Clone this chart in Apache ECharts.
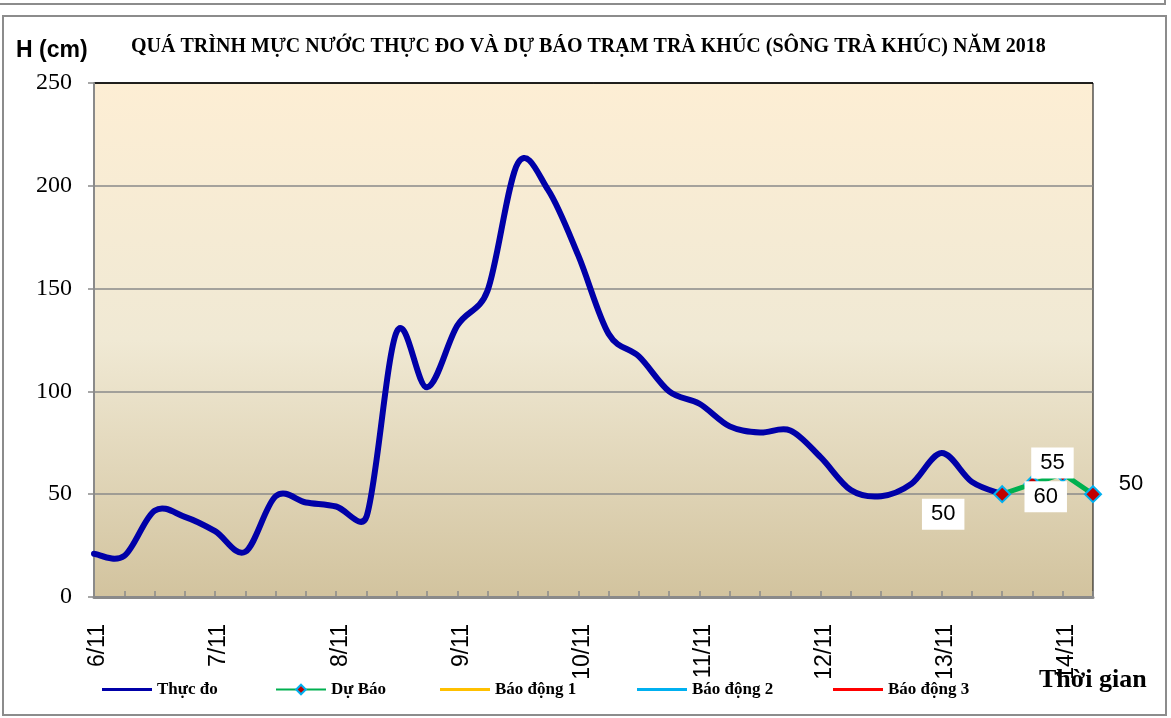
<!DOCTYPE html>
<html>
<head>
<meta charset="utf-8">
<script src="https://cdn.jsdelivr.net/npm/echarts@6/dist/echarts.min.js"></script>
<style>html,body{margin:0;padding:0;background:#fff;}#c{width:1171px;height:718px;}</style>
</head>
<body>
<div id="c"></div>
<script>
// 6-hour observation times (category axis)
const times = [
  '6/11 1h','6/11 7h','6/11 13h','6/11 19h',
  '7/11 1h','7/11 7h','7/11 13h','7/11 19h',
  '8/11 1h','8/11 7h','8/11 13h','8/11 19h',
  '9/11 1h','9/11 7h','9/11 13h','9/11 19h',
  '10/11 1h','10/11 7h','10/11 13h','10/11 19h',
  '11/11 1h','11/11 7h','11/11 13h','11/11 19h',
  '12/11 1h','12/11 7h','12/11 13h','12/11 19h',
  '13/11 1h','13/11 7h','13/11 13h','13/11 19h',
  '14/11 1h','14/11 7h'
];
// Observed water level (cm)
const thucDo = [21,20,42,39,32,22,49,46,44,39,129,102,132,149,211,198,166,128,117,100,94,83,80,81,68,52,49,55,70,56,50,null,null,null];
// Forecast water level (cm)
const duBao = [null,null,null,null,null,null,null,null,null,null,null,null,null,null,null,null,null,null,null,null,null,null,null,null,null,null,null,null,null,null,50,55,60,50];
// Alarm levels (above axis range, legend only)
const baoDong1 = [];
const baoDong2 = [];
const baoDong3 = [];
const yTicks = [0,50,100,150,200,250];

const labelOffsets = [[-59,20],[20,-21],[-17,23],[38,-10]];
const duBaoData = duBao.map((v,i)=>{
  if (v===null) return null;
  const k = i - 30;
  return {value:v, label:{show:true, position:'inside', offset:labelOffsets[k],
    backgroundColor: k===3 ? 'transparent' : '#fff'}};
});

// Smooth (Excel-like) curve through the observed points, positioned with the chart's own axes
function arm(a, b, seg){
  // tangent arm (b - a)/6, limited to half of the adjacent segment length
  let vx = (b[0]-a[0])/6, vy = (b[1]-a[1])/6;
  const len = Math.hypot(vx, vy), lim = 0.5 * seg;
  if (len > lim && len > 0) { vx *= lim/len; vy *= lim/len; }
  return [vx, vy];
}
function renderSmooth(params, api){
  if (params.dataIndex !== 0) return null;
  const pts = [];
  thucDo.forEach((v,i)=>{ if (v !== null) pts.push(api.coord([i, v])); });
  let d = 'M' + pts[0][0] + ' ' + pts[0][1];
  for (let k = 0; k < pts.length - 1; k++) {
    const p0 = pts[k-1] || pts[k], p1 = pts[k], p2 = pts[k+1], p3 = pts[k+2] || pts[k+1];
    const seg = Math.hypot(p2[0]-p1[0], p2[1]-p1[1]);
    const a1 = arm(p0, p2, seg), a2 = arm(p1, p3, seg);
    d += ' C' + (p1[0]+a1[0]) + ' ' + (p1[1]+a1[1]) + ' ' + (p2[0]-a2[0]) + ' ' + (p2[1]-a2[1]) + ' ' + p2[0] + ' ' + p2[1];
  }
  return {type:'path', shape:{pathData:d},
    style:{fill:'none', stroke:'#0000A8', lineWidth:6, lineJoin:'round', lineCap:'round'}};
}

const chart = echarts.init(document.getElementById('c'), null, {renderer:'canvas'});
const lineIcon = 'path://M0,0 L50,0 L50,3 L0,3 Z';
const legendBase = {top: 676, itemWidth: 50, itemGap: 7,
  textStyle:{fontFamily:'Liberation Serif', fontWeight:'bold', fontSize:17, color:'#000'}};
chart.setOption({
  backgroundColor:'#fff',
  animation:false,
  title:[
    {text:'QUÁ TRÌNH MỰC NƯỚC THỰC ĐO VÀ DỰ BÁO TRẠM TRÀ KHÚC (SÔNG TRÀ KHÚC) NĂM 2018',
     left:126, top:32, textStyle:{fontFamily:'Liberation Serif', fontWeight:'bold', fontSize:20, color:'#000'}},
    {text:'H (cm)', left:11, top:34, textStyle:{fontFamily:'Liberation Sans', fontWeight:'bold', fontSize:23, color:'#000'}},
    {text:'Thời gian', left:1034, top:662, textStyle:{fontFamily:'Liberation Serif', fontWeight:'bold', fontSize:26, color:'#000'}}
  ],
  legend:[
    Object.assign({left:97, itemHeight:3, data:[{name:'Thực đo', icon:lineIcon}]}, legendBase),
    Object.assign({left:270, itemHeight:12, data:['Dự Báo']}, legendBase),
    Object.assign({left:435, itemHeight:3, data:[{name:'Báo động 1', icon:lineIcon}]}, legendBase),
    Object.assign({left:632, itemHeight:3, data:[{name:'Báo động 2', icon:lineIcon}]}, legendBase),
    Object.assign({left:828, itemHeight:3, data:[{name:'Báo động 3', icon:lineIcon}]}, legendBase)
  ],
  grid:{left:94, right:78, top:83, bottom:121, show:true,
    borderColor:'#000', borderWidth:1,
    backgroundColor:{type:'linear', x:0, y:0, x2:0, y2:1, colorStops:[
      {offset:0, color:'#FDEED4'},{offset:0.5, color:'#F0E9D4'},{offset:1, color:'#D2C39E'}]}},
  xAxis:{type:'category', data:times, boundaryGap:false,
    axisLine:{lineStyle:{color:'#8a8a8a', width:3}},
    axisTick:{show:true, inside:true, length:6, interval:0, lineStyle:{color:'#8a8a8a', width:1.5}},
    axisLabel:{interval:3, rotate:90, margin:27, verticalAlign:'top', lineHeight:8,
      fontFamily:'Liberation Sans', fontSize:23, color:'#000',
      formatter:(v)=>v.split(' ')[0]},
    splitLine:{show:false}},
  yAxis:{type:'value', min:0, max:250, interval:50,
    axisLine:{show:true, lineStyle:{color:'#8a8a8a', width:2}},
    axisTick:{show:true, length:6, lineStyle:{color:'#8a8a8a', width:1.5}},
    axisLabel:{fontFamily:'Liberation Serif', fontSize:24, color:'#000', margin:22,
      formatter:(v)=> yTicks.indexOf(v)>=0 ? String(v) : ''},
    splitLine:{show:true, lineStyle:{color:['#8a8a8a','#8a8a8a','#8a8a8a','#8a8a8a','#8a8a8a','#000'], width:1.5}}},
  series:[
    {name:'Thực đo', type:'custom', renderItem:renderSmooth,
      data:thucDo.map((v,i)=>[i, v]), encode:{x:0, y:1},
      itemStyle:{color:'#0000A8'}, z:3},
    {name:'Dự Báo', type:'line', data:duBaoData, smooth:false, symbol:'diamond', symbolSize:16,
      lineStyle:{color:'#00B050', width:5},
      itemStyle:{color:'#C00000', borderColor:'#00B0F0', borderWidth:2},
      label:{fontFamily:'Liberation Sans', fontSize:22, color:'#000', padding:[3,9], lineHeight:25,
        formatter:(p)=>String(p.value)},
      z:4},
    {name:'Báo động 1', type:'line', data:baoDong1, symbol:'none', lineStyle:{color:'#FFC000', width:3}, itemStyle:{color:'#FFC000'}},
    {name:'Báo động 2', type:'line', data:baoDong2, symbol:'none', lineStyle:{color:'#00B0F0', width:3}, itemStyle:{color:'#00B0F0'}},
    {name:'Báo động 3', type:'line', data:baoDong3, symbol:'none', lineStyle:{color:'#FF0000', width:3}, itemStyle:{color:'#FF0000'}}
  ],
  graphic:[
    {type:'rect', shape:{x:3, y:16, width:1163, height:699}, style:{fill:'none', stroke:'#8c8c8c', lineWidth:2}, silent:true, z:-1},
    {type:'line', shape:{x1:0, y1:4, x2:1166, y2:4}, style:{stroke:'#8c8c8c', lineWidth:2}, silent:true},
    {type:'line', shape:{x1:1165, y1:0, x2:1165, y2:4}, style:{stroke:'#8c8c8c', lineWidth:2}, silent:true}
  ]
});
</script>
</body>
</html>
